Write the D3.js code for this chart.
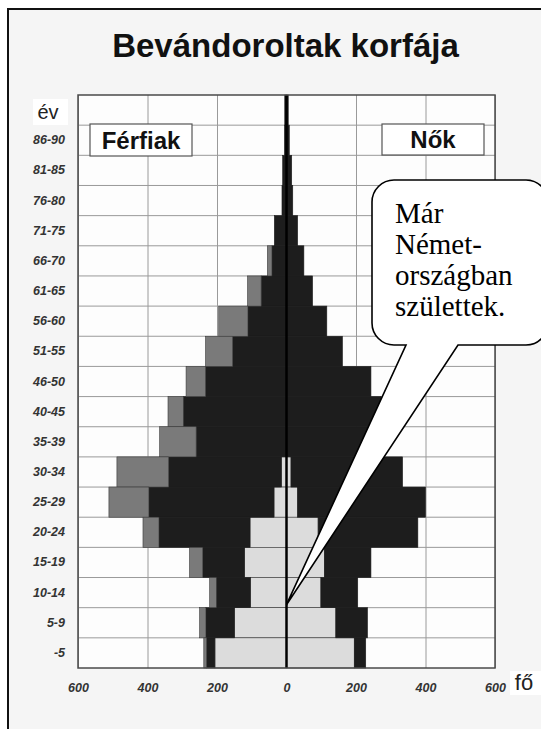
<!DOCTYPE html>
<html>
<head>
<meta charset="utf-8">
<script src="https://cdn.jsdelivr.net/npm/d3@7"></script>
<style>
    html, body { margin: 0; padding: 0; background: #ffffff; }
    svg { display: block; }
    .axis path { display: none; }
    .grid line { stroke: #9a9a9a; stroke-width: 1; }
    .grid path { display: none; }
</style>
</head>
<body>
<div id="chart"></div>
<script>
'use strict';

// korcsoportok, felülről lefelé (a legfelső sor felirat nélküli)
const ageGroups = ['', '86-90', '81-85', '76-80', '71-75', '66-70', '61-65', '56-60', '51-55',
    '46-50', '40-45', '35-39', '30-34', '25-29', '20-24', '15-19', '10-14', '5-9', '-5'];

// férfiak: már Németországban születtek / bevándoroltak / egyéb
const menBornHere = [0, 0, 0, 0, 0, 0, 0, 0, 0, 0, 0, 0, 15, 36, 105, 121, 104, 150, 206];
const menMain     = [5, 6, 11, 13, 35, 42, 73, 111, 155, 233, 297, 260, 324, 360, 262, 120, 98, 82, 24];
const menOther    = [0, 0, 0, 0, 0, 13, 39, 84, 78, 56, 44, 105, 149, 115, 46, 38, 19, 18, 8];

// nők
const womenBornHere = [0, 0, 0, 0, 0, 0, 0, 0, 0, 0, 0, 0, 13, 32, 91, 109, 99, 142, 195];
const womenMain     = [5, 8, 15, 18, 32, 50, 75, 116, 161, 243, 272, 280, 321, 368, 287, 134, 106, 91, 33];

const xTicks = [-600, -400, -200, 0, 200, 400, 600];
const calloutLines = ['Már', 'Német-', 'országban', 'születtek.'];

const W = 541, H = 729;
const plot = { left: 78, right: 495, top: 95, bottom: 668 };
const colors = { bornHere: '#dcdcdc', main: '#1d1d1d', other: '#7a7a7a' };

const svg = d3.select('#chart').append('svg')
    .attr('width', W)
    .attr('height', H);

// keret
svg.append('rect')
    .attr('x', 8).attr('y', 9)
    .attr('width', W + 20).attr('height', H + 20)
    .attr('fill', '#f5f5f5')
    .attr('stroke', '#111')
    .attr('stroke-width', 2);

svg.append('text')
    .attr('x', 285.5).attr('y', 57)
    .attr('text-anchor', 'middle')
    .style('font', 'bold 33px "Liberation Sans", Arial, sans-serif')
    .attr('fill', '#111')
    .text('Bevándoroltak korfája');

const x = d3.scaleLinear()
    .domain([-600, 600])
    .range([plot.left, plot.right]);

const y = d3.scaleBand()
    .domain(ageGroups)
    .range([plot.top, plot.bottom])
    .padding(0);

svg.append('rect')
    .attr('x', plot.left).attr('y', plot.top)
    .attr('width', plot.right - plot.left)
    .attr('height', plot.bottom - plot.top)
    .attr('fill', '#fdfdfd');

// rács
svg.append('g')
    .attr('class', 'grid')
    .attr('transform', `translate(0, ${plot.bottom})`)
    .call(d3.axisBottom(x).tickValues(xTicks).tickSize(-(plot.bottom - plot.top)).tickFormat(''));

svg.append('g')
    .attr('class', 'grid')
    .selectAll('line')
    .data(ageGroups.slice(1))
    .join('line')
    .attr('x1', plot.left).attr('x2', plot.right)
    .attr('y1', d => y(d)).attr('y2', d => y(d));

const stackKeys = ['bornHere', 'main', 'other'];
const menRows = ageGroups.map((g, i) => ({ group: g, bornHere: menBornHere[i], main: menMain[i], other: menOther[i] }));
const womenRows = ageGroups.map((g, i) => ({ group: g, bornHere: womenBornHere[i], main: womenMain[i], other: 0 }));

const drawSide = (rows, sign) => {
    const series = d3.stack().keys(stackKeys)(rows);
    svg.append('g')
        .selectAll('g')
        .data(series)
        .join('g')
        .attr('fill', s => colors[s.key])
        .attr('stroke', s => s.key === 'main' ? colors.main : '#3a3a3a')
        .attr('stroke-width', 0.6)
        .selectAll('rect')
        .data(s => s.filter(d => d[1] > d[0]))
        .join('rect')
        .attr('x', d => Math.min(x(sign * d[0]), x(sign * d[1])))
        .attr('width', d => Math.abs(x(sign * d[1]) - x(sign * d[0])))
        .attr('y', d => y(d.data.group))
        .attr('height', y.bandwidth());
};

drawSide(menRows, -1);
drawSide(womenRows, 1);

// középvonal
svg.append('line')
    .attr('x1', x(0)).attr('x2', x(0))
    .attr('y1', plot.top).attr('y2', plot.bottom)
    .attr('stroke', '#000')
    .attr('stroke-width', 2.5);

svg.append('rect')
    .attr('x', plot.left).attr('y', plot.top)
    .attr('width', plot.right - plot.left)
    .attr('height', plot.bottom - plot.top)
    .attr('fill', 'none')
    .attr('stroke', '#4a4a4a')
    .attr('stroke-width', 1.5);

// tengelyfeliratok
const yAxis = svg.append('g')
    .attr('class', 'axis')
    .attr('transform', `translate(${plot.left}, 0)`)
    .call(d3.axisLeft(y).tickSize(0).tickPadding(13));
yAxis.selectAll('text')
    .style('font', 'italic bold 12.5px "Liberation Sans", Arial, sans-serif')
    .attr('fill', '#333');

const xAxis = svg.append('g')
    .attr('class', 'axis')
    .attr('transform', `translate(0, ${plot.bottom})`)
    .call(d3.axisBottom(x).tickValues(xTicks).tickSize(0).tickPadding(15).tickFormat(d => Math.abs(d)));
xAxis.selectAll('text')
    .style('font', 'italic bold 12.5px "Liberation Sans", Arial, sans-serif')
    .attr('fill', '#333');

// év / fő
svg.append('rect')
    .attr('x', 33).attr('y', 99).attr('width', 35).attr('height', 26)
    .attr('fill', '#fff');
svg.append('text')
    .attr('x', 48).attr('y', 119)
    .attr('text-anchor', 'middle')
    .style('font', '20px "Liberation Sans", Arial, sans-serif')
    .attr('fill', '#222')
    .text('év');

svg.append('rect')
    .attr('x', 510).attr('y', 671).attr('width', 31).attr('height', 24)
    .attr('fill', '#fff');
svg.append('text')
    .attr('x', 524).attr('y', 690)
    .attr('text-anchor', 'middle')
    .style('font', '22px "Liberation Sans", Arial, sans-serif')
    .attr('fill', '#222')
    .text('fő');

// Férfiak / Nők címkék
const sexLabel = (bx, by, bw, bh, label) => {
    svg.append('rect')
        .attr('x', bx).attr('y', by).attr('width', bw).attr('height', bh)
        .attr('fill', '#fff')
        .attr('stroke', '#555')
        .attr('stroke-width', 1.2);
    svg.append('text')
        .attr('x', bx + bw / 2).attr('y', by + bh / 2 + 8.5)
        .attr('text-anchor', 'middle')
        .style('font', 'bold 24px "Liberation Sans", Arial, sans-serif')
        .attr('fill', '#111')
        .text(label);
};
sexLabel(90, 124, 102, 32, 'Férfiak');
sexLabel(382, 124, 102, 31, 'Nők');

// szövegbuborék
const box = { l: 372, t: 180, r: 548, b: 345, rad: 22 };
const tip = [x(0), y('10-14') + y.bandwidth() - 3];
const base = [406, 458];
const bubble = d3.path();
bubble.moveTo(box.l + box.rad, box.t);
bubble.lineTo(box.r - box.rad, box.t);
bubble.arcTo(box.r, box.t, box.r, box.t + box.rad, box.rad);
bubble.lineTo(box.r, box.b - box.rad);
bubble.arcTo(box.r, box.b, box.r - box.rad, box.b, box.rad);
bubble.lineTo(base[1], box.b);
bubble.lineTo(tip[0], tip[1]);
bubble.lineTo(base[0], box.b);
bubble.lineTo(box.l + box.rad, box.b);
bubble.arcTo(box.l, box.b, box.l, box.b - box.rad, box.rad);
bubble.lineTo(box.l, box.t + box.rad);
bubble.arcTo(box.l, box.t, box.l + box.rad, box.t, box.rad);
bubble.closePath();

svg.append('path')
    .attr('d', bubble.toString())
    .attr('fill', '#fff')
    .attr('stroke', '#000')
    .attr('stroke-width', 1.6)
    .attr('stroke-linejoin', 'miter');

svg.append('g')
    .selectAll('text')
    .data(calloutLines)
    .join('text')
    .attr('x', 395)
    .attr('y', (d, i) => 223 + i * 31)
    .style('font', '29px "Liberation Serif", "Times New Roman", serif')
    .attr('fill', '#000')
    .text(d => d);
</script>
</body>
</html>
